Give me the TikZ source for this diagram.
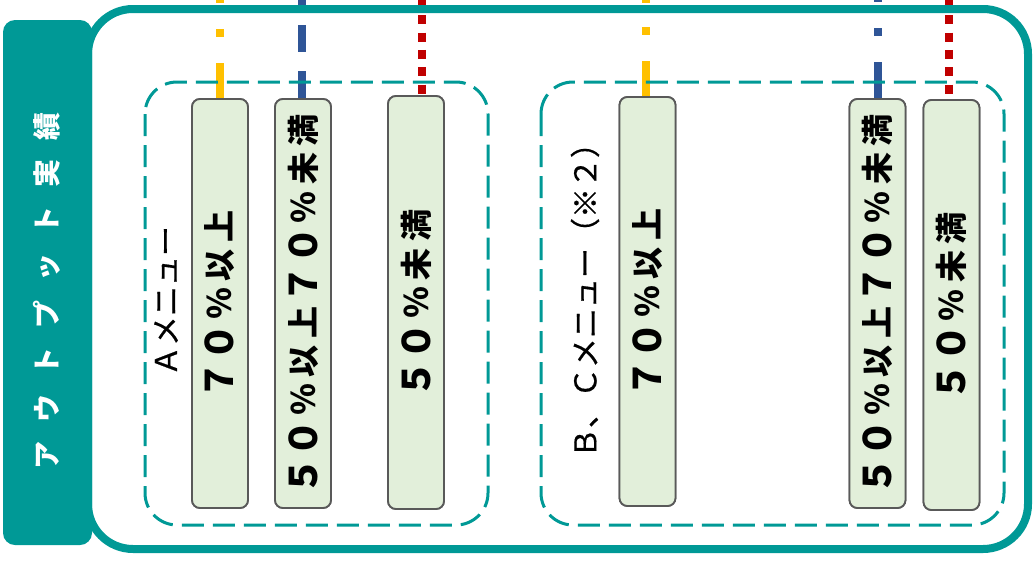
\documentclass[tikz,border=0pt]{standalone}
\usepackage{fontspec}
\newfontfamily\jp{Noto Sans CJK JP}
\definecolor{tealc}{RGB}{0,153,150}
\definecolor{barfill}{RGB}{226,239,218}
\definecolor{barline}{RGB}{89,89,89}
\definecolor{ylw}{RGB}{255,192,0}
\definecolor{blu}{RGB}{47,85,151}
\definecolor{rd}{RGB}{192,0,0}
\newcommand\cj[1]{\makebox[38.5pt]{#1}}
\newcommand\dg[1]{\makebox[38.5pt]{\raisebox{-2pt}{\fontsize{38}{38}\selectfont#1}}}
\tikzset{
  bar/.style={draw=barline, line width=1.8pt, fill=barfill, rounded corners=8pt, minimum width=56pt, inner sep=0pt},
  bartext/.style={rotate=90, inner sep=0pt, text=black, font=\jp\bfseries\fontsize{32}{32}\selectfont},
  menutext/.style={rotate=90, inner sep=0pt, text=black, font=\jp\addfontfeature{FakeBold=0.6}\fontsize{30}{30}\selectfont},
  tabtext/.style={rotate=90, inner sep=0pt, text=white, font=\jp\bfseries\addfontfeature{LetterSpace=68}\fontsize{28}{28}\selectfont},
  grp/.style={draw=tealc, line width=3pt, dash pattern=on 22pt off 9pt, rounded corners=32pt},
  ydash/.style={draw=ylw, line width=8pt, dash pattern=on 64pt off 26pt on 8pt off 26pt},
  bdash/.style={draw=blu, line width=8pt, dash pattern=on 27pt off 19pt},
  bdashdot/.style={draw=blu, line width=8pt, dash pattern=on 64pt off 26pt on 8pt off 26pt},
  rdot/.style={draw=rd, line width=8pt, dash pattern=on 9pt off 8.3pt},
}
\begin{document}
\begin{tikzpicture}[x=1pt,y=-1pt]
\useasboundingbox (0,0) rectangle (1033,562);
% bars
\node[bar, minimum height=409pt] (b1) at (220,303.5) {};
\node[bar, minimum height=409pt] (b2) at (303,303.5) {};
\node[bar, minimum height=413pt] (b3) at (416,302.5) {};
\node[bar, minimum height=409pt] (b4) at (647.5,301.5) {};
\node[bar, minimum height=409pt] (b5) at (877.5,303.5) {};
\node[bar, minimum height=410pt] (b6) at (951.5,305) {};
% connector tops
\coordinate (t1) at (220,0);
\coordinate (t2) at (302,0);
\coordinate (t3) at (422,0);
\coordinate (t4) at (646,0);
\coordinate (t5) at (878,0);
\coordinate (t6) at (949,0);
\draw[ydash, dash phase=61pt] (t1) -- (t1 |- b1.north);
\draw[bdash, dash phase=21pt] (t2) -- (t2 |- b2.north);
\draw[rdot, dash phase=2pt] (t3) -- (t3 |- b3.north);
\draw[ydash, dash pattern=on 64pt off 24pt on 8pt off 26pt, dash phase=61pt] (t4) -- (t4 |- b4.north);
\draw[bdashdot, dash phase=62pt] (t5) -- (t5 |- b5.north);
\draw[rdot, dash phase=2pt] (t6) -- (t6 |- b6.north);
% outer box
\draw[tealc, line width=8pt, rounded corners=45pt] (88,9) rectangle (1028,549);
% groups
\draw[grp] (145,82) rectangle (488,525);
\draw[grp] (541,82) rectangle (1004,525);
% redraw bars on top
\node[bar, minimum height=409pt] at (b1) {};
\node[bar, minimum height=409pt] at (b2) {};
\node[bar, minimum height=413pt] at (b3) {};
\node[bar, minimum height=409pt] at (b4) {};
\node[bar, minimum height=409pt] at (b5) {};
\node[bar, minimum height=410pt] at (b6) {};
\node[bartext] (l1) at (b1) {\dg{７}\dg{０}\cj{％}\cj{以}\cj{上}};
\node[bartext] (l2) at (b2) {\dg{５}\dg{０}\cj{％}\cj{以}\cj{上}\dg{７}\dg{０}\cj{％}\cj{未}\cj{満}};
\node[bartext] (l3) at (b3) {\dg{５}\dg{０}\cj{％}\cj{未}\cj{満}};
\node[bartext] (l4) at (b4) {\dg{７}\dg{０}\cj{％}\cj{以}\cj{上}};
\node[bartext] (l5) at (b5) {\dg{５}\dg{０}\cj{％}\cj{以}\cj{上}\dg{７}\dg{０}\cj{％}\cj{未}\cj{満}};
\node[bartext] (l6) at (b6) {\dg{５}\dg{０}\cj{％}\cj{未}\cj{満}};
% group labels
\node[menutext] (ma) at (166,301) {Ａメニュー};
\node[menutext] (mb) at (585,293) {Ｂ、Ｃメニュー（※２）};
% tab
\node[fill=tealc, rounded corners=12pt, minimum width=89pt, minimum height=525pt, inner sep=0pt] (tab) at (47.5,282.5) {};
\node[tabtext] (tt) at (47,291) {アウトプット実績};
\end{tikzpicture}
\end{document}
